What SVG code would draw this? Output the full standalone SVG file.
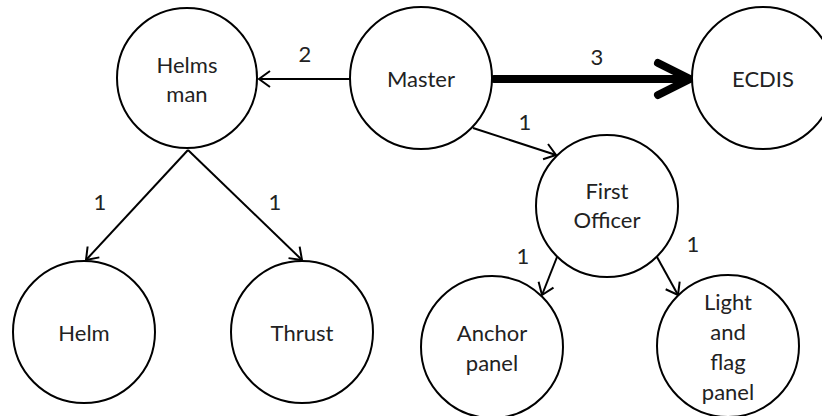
<svg xmlns="http://www.w3.org/2000/svg" width="822" height="416" viewBox="0 0 822 416">
<defs>
<style>
.node circle{fill:#fff;stroke:#000;stroke-width:2}
text{font-family:Lato,"Liberation Sans",sans-serif;font-size:22px;fill:#222;text-anchor:middle}
.c{stroke:#000;stroke-width:2;fill:none}
.thick{stroke:#000;stroke-width:8;fill:none;stroke-linecap:round;stroke-linejoin:round}
</style>
<marker id="arr" markerUnits="userSpaceOnUse" markerWidth="20" markerHeight="20" viewBox="-14 -10 16 20" refX="0" refY="0" orient="auto" overflow="visible">
<path d="M-11,-8 L0,0 L-11,8" fill="none" stroke="#000" stroke-width="2"/>
</marker>
</defs>
<rect width="822" height="416" fill="#fff"/>
<g id="connectors">
<line class="c" x1="350" y1="79" x2="259" y2="79" marker-end="url(#arr)"/>
<line class="thick" x1="494" y1="79" x2="686" y2="79"/>
<path class="thick" d="M658,63 L690,79 L658,95"/>
<line class="c" x1="473" y1="128" x2="556" y2="155" marker-end="url(#arr)"/>
<line class="c" x1="188" y1="150" x2="86" y2="260" marker-end="url(#arr)"/>
<line class="c" x1="188" y1="150" x2="302" y2="260" marker-end="url(#arr)"/>
<line class="c" x1="557" y1="257" x2="542" y2="295" marker-end="url(#arr)"/>
<line class="c" x1="657" y1="257" x2="678" y2="295" marker-end="url(#arr)"/>
<text x="305" y="62">2</text>
<text x="597" y="65">3</text>
<text x="525" y="130">1</text>
<text x="100" y="210">1</text>
<text x="275" y="210">1</text>
<text x="523" y="264">1</text>
<text x="693" y="252">1</text>
</g>
<g id="helmsman" class="node"><circle cx="187" cy="78" r="70"/><text x="187" y="73">Helms</text><text x="187" y="102">man</text></g>
<g id="master" class="node"><circle cx="421" cy="78" r="71"/><text x="421" y="87">Master</text></g>
<g id="ecdis" class="node"><circle cx="763" cy="78" r="71"/><text x="763" y="87">ECDIS</text></g>
<g id="first-officer" class="node"><circle cx="607" cy="206" r="71"/><text x="607" y="199">First</text><text x="607" y="228">Officer</text></g>
<g id="helm" class="node"><circle cx="84" cy="332" r="71"/><text x="84" y="341">Helm</text></g>
<g id="thrust" class="node"><circle cx="302" cy="332" r="71"/><text x="302" y="341">Thrust</text></g>
<g id="anchor-panel" class="node"><circle cx="492" cy="347" r="71"/><text x="492" y="341">Anchor</text><text x="492" y="371">panel</text></g>
<g id="light-flag-panel" class="node"><circle cx="728" cy="346" r="71"/><text x="728" y="310">Light</text><text x="728" y="340">and</text><text x="728" y="370">flag</text><text x="728" y="400">panel</text></g>
</svg>
